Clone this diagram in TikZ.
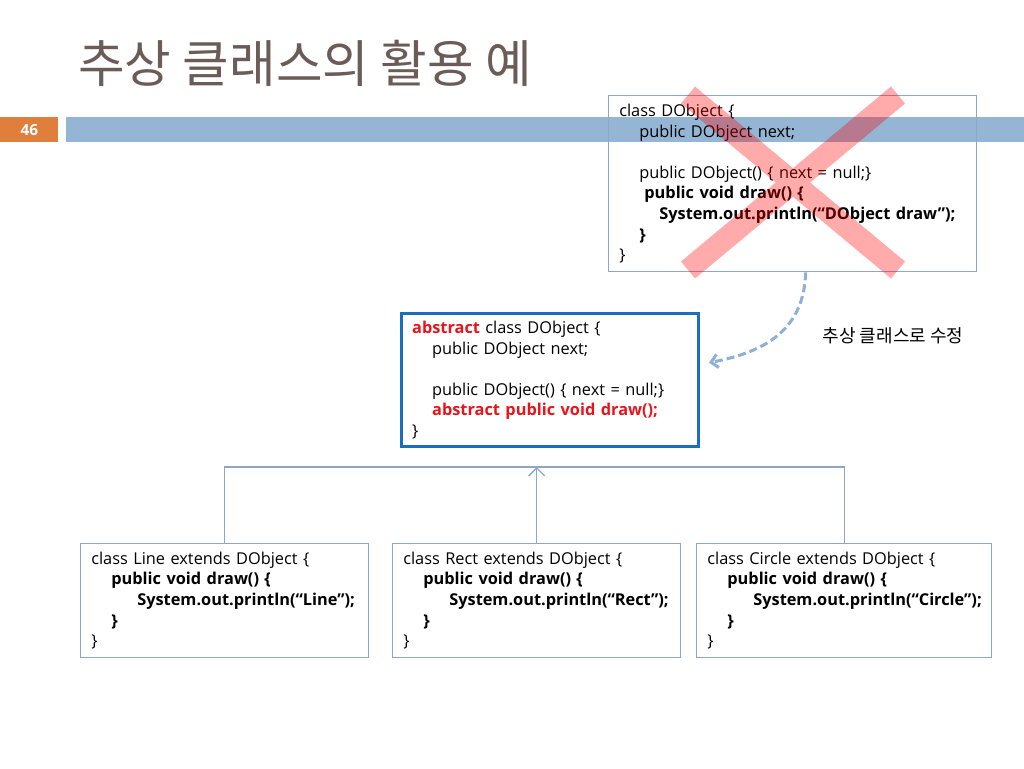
\documentclass[tikz,border=0pt]{standalone}
\usepackage{fontspec}
\setmainfont{Open Sans}
\newfontfamily\kr{Noto Sans CJK KR}
\usetikzlibrary{arrows.meta}
\definecolor{titlegray}{HTML}{6B5C58}
\definecolor{barblue}{HTML}{94B5D3}
\definecolor{barorange}{HTML}{E07E3C}
\definecolor{boxline}{HTML}{8DA8C6}
\definecolor{absblue}{HTML}{1C6EC0}
\definecolor{absred}{HTML}{E8141B}
\definecolor{fixblue}{HTML}{8FB0D3}
\newcommand{\ind}[1]{\hspace*{#1pt}}
\begin{document}
\begin{tikzpicture}[x=0.75pt,y=-0.75pt,
  every node/.append style={inner sep=0pt},
  code/.style={draw=boxline,line width=1pt,anchor=north west,align=left,
    inner xsep=8pt,font=\fontsize{12.25}{15.45}\selectfont},
  tree/.style={draw=boxline,line width=1pt}]
  \tikzstyle{kr} = [font=\kr\fontsize{13.5}{15}\selectfont,color=black]
  \useasboundingbox[fill=white] (0,0) rectangle (1024,768);
  \node (title) [anchor=west,font=\kr\fontsize{38}{40}\selectfont,color=titlegray] at (78,63) {추상 클래스의 활용 예};
  \fill[barblue] (66,117) rectangle (1024,142);
  \node (page) [fill=barorange,minimum width=43.5pt,minimum height=18.75pt,anchor=north west,
    text=white,font=\bfseries\fontsize{11.5}{13}\selectfont] at (0,117) {46};
  \node (old_1) [code,minimum height=132pt,text width=260pt] at (608,95)
  {class DObject \{\\
  \ind{15}public DObject next;\\
  ~\\
  \ind{15}public DObject() \{ next = null;\}\\
  \ind{18.75}\textbf{public void draw() \{}\\
  \ind{30}\mbox{\textbf{System.out.println(“DObject draw”);}}\\
  \ind{15}\textbf{\}}\\
  \}};
  \draw[red,opacity=0.33,line width=16.5pt] (688,95) -- (898,270) (898,95) -- (688,270);
  \node (abs_1) [code,draw=absblue,line width=2.25pt,minimum height=99.75pt,text width=206.75pt] at (400,312)
  {\textcolor{absred}{\textbf{abstract}} class DObject \{\\
  \ind{15}public DObject next;\\
  ~\\
  \ind{15}public DObject() \{ next = null;\}\\
  \ind{15}\textcolor{absred}{\textbf{abstract public void draw();}}\\
  \}};
  \node (fix_1) [kr] at (893,336) {추상 클래스로 수정};
  \draw[fixblue,line width=2.25pt,dash pattern=on 6pt off 3pt,-{Straight Barb[length=5pt,width=10pt]}]
    ([xshift=9.75pt]old_1.south) .. controls (804,330) and (765,352) .. ([shift={(6.75pt,13pt)}]abs_1.east);
  \node (sub_1) [code,minimum width=216pt,minimum height=85.5pt,text width=200pt] at (80,543)
  {class Line extends DObject \{\\
  \ind{15}\textbf{public void draw() \{}\\
  \ind{34.5}\mbox{\textbf{System.out.println(“Line”);}}\\
  \ind{15}\textbf{\}}\\
  \}};
  \node (sub_2) [code,minimum height=85.5pt,text width=200pt] at (392,543)
  {class Rect extends DObject \{\\
  \ind{15}\textbf{public void draw() \{}\\
  \ind{34.5}\mbox{\textbf{System.out.println(“Rect”);}}\\
  \ind{15}\textbf{\}}\\
  \}};
  \node (sub_3) [code,minimum height=85.5pt,text width=205.25pt] at (696,543)
  {class Circle extends DObject \{\\
  \ind{15}\textbf{public void draw() \{}\\
  \ind{34.5}\mbox{\textbf{System.out.println(“Circle”);}}\\
  \ind{15}\textbf{\}}\\
  \}};
  \coordinate (hub) at (sub_2.north |- 0,467);
  \draw[tree] (sub_1.north) |- (hub) -| (sub_3.north);
  \draw[tree,-{Straight Barb[length=6pt,width=12pt]}] (sub_2.north) -- (hub);
\end{tikzpicture}
\end{document}
